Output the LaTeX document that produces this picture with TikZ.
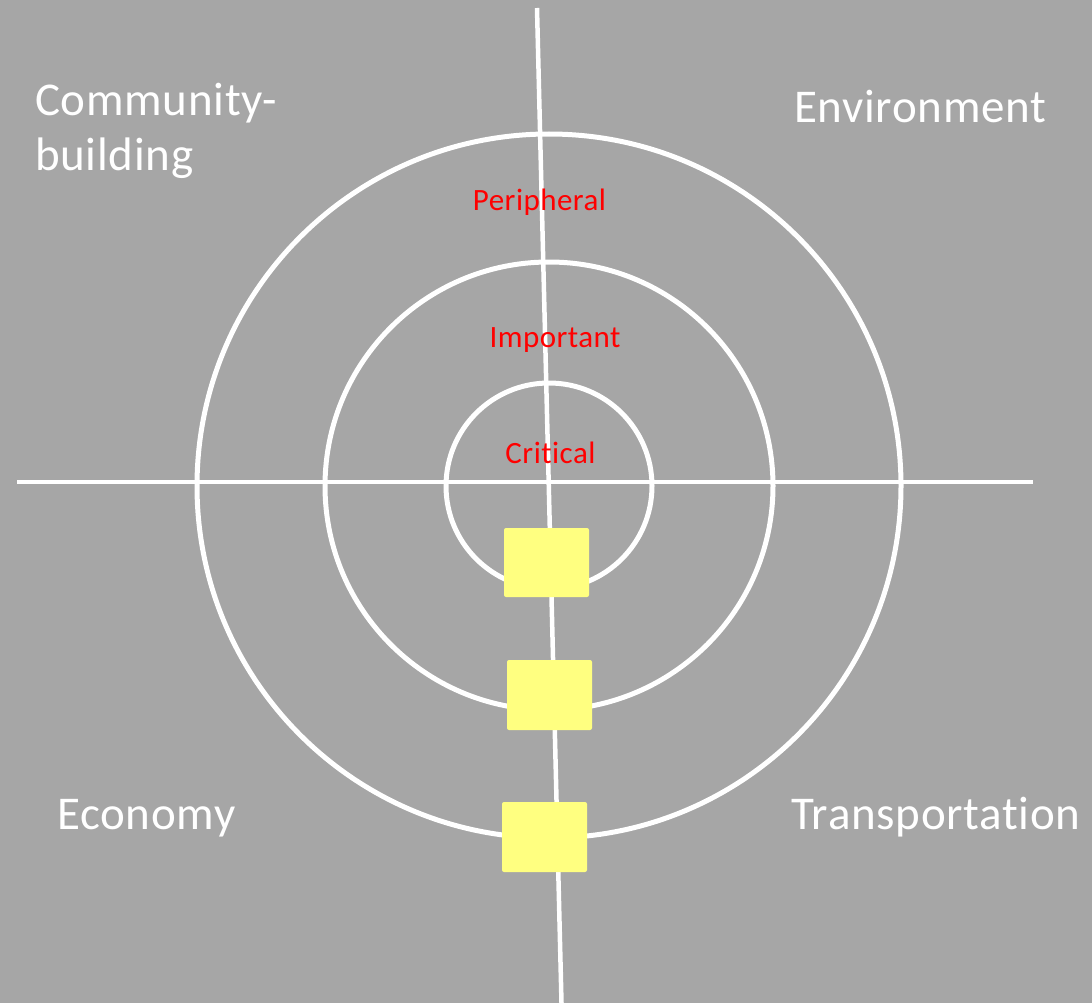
\documentclass[tikz,border=0pt]{standalone}
\usepackage{fontspec}
\setmainfont{Carlito}[Ligatures={NoCommon},LetterSpace=1.5]
\definecolor{bg}{HTML}{A6A6A6}
\definecolor{sticky}{HTML}{FFFF80}
\tikzset{
  ring/.style={draw=white, line width=5pt},
  axis/.style={draw=white, line width=4.5pt},
  quad/.style={text=white, font=\fontsize{47}{55}\selectfont, inner sep=0pt},
  level/.style={text=red, font=\fontsize{31}{37}\selectfont, inner sep=0pt, anchor=base},
  note/.style={fill=sticky, rounded corners=2pt, draw=none}
}
\begin{document}
\begin{tikzpicture}[x=1pt,y=-1pt]
\fill[bg] (0,0) rectangle (1092,1003);
\useasboundingbox (0,0) rectangle (1092,1003);
\coordinate (c) at (549,486);
\draw[ring] (c) circle[radius=352];
\draw[ring] (c) circle[radius=224];
\draw[ring] (c) circle[radius=103];
\coordinate (hl) at (17,482);
\coordinate (hr) at (1033,482);
\coordinate (vt) at (537,8);
\coordinate (vb) at (561.5,1003);
\draw[axis] (hl) -- (hr);
\draw[axis] (vt) -- (vb);
\node[level] (per) at (539.5,211) {Peripheral};
\node[level] (imp) at (555,347) {Important};
\node[level] (cri) at (550.5,463) {Critical};
\fill[note] (504,528) rectangle (589,597);
\fill[note] (507,660) rectangle (592,730);
\fill[note] (502,802) rectangle (587,872);
\node[quad, anchor=base west] (com) at (35,116) {Community-};
\node[quad, anchor=base west] (bui) at (35,171) {building};
\node[quad, anchor=base west] (env) at (794,123) {Environment};
\node[quad, anchor=base west] (eco) at (57,829) {Economy};
\node[quad, anchor=base west] (tra) at (791,829) {Transportation};
\end{tikzpicture}
\end{document}
